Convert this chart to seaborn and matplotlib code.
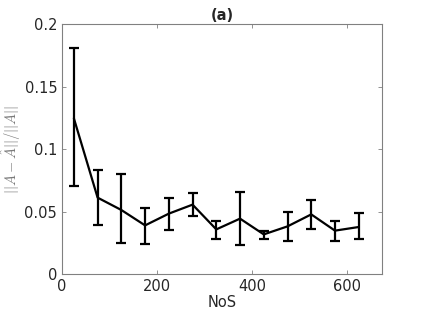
import numpy as np
import pandas as pd
import seaborn as sns
import matplotlib
matplotlib.use("Agg")
import matplotlib.pyplot as plt

# values
nos = [25, 75, 125, 175, 225, 275, 325, 375, 425, 475, 525, 575, 625]
err_mean = [0.1245, 0.0611, 0.0512, 0.0389, 0.0483, 0.0555, 0.0357, 0.0443, 0.0317, 0.0381, 0.0477, 0.0347, 0.0376]
err_upper = [0.1805, 0.0835, 0.0800, 0.0530, 0.0605, 0.0648, 0.0421, 0.0653, 0.0344, 0.0499, 0.0592, 0.0424, 0.0488]
err_lower = [0.0704, 0.0389, 0.0245, 0.0237, 0.0355, 0.0461, 0.0283, 0.0229, 0.0283, 0.0261, 0.0357, 0.0267, 0.0280]

df = pd.DataFrame({"NoS": nos, "err": err_mean})

sns.set_style("white")
plt.rcParams["font.family"] = ["DejaVu Sans"]
plt.rcParams["mathtext.fontset"] = "cm"

fig = plt.figure(figsize=(4.23, 3.17), dpi=100)
ax = fig.add_axes([0.1466, 0.1356, 0.7564, 0.7887])

sns.lineplot(data=df, x="NoS", y="err", color="black", linewidth=1.6, ax=ax)
yerr = np.array([np.array(err_mean) - np.array(err_lower),
                 np.array(err_upper) - np.array(err_mean)])
ax.errorbar(nos, err_mean, yerr=yerr, fmt="none", ecolor="black",
            elinewidth=1.6, capsize=3.5, capthick=1.6)

ax.set_xlim(0, 674)
ax.set_ylim(0, 0.2)
ax.set_xticks([0, 200, 400, 600])
ax.set_yticks([0, 0.05, 0.1, 0.15, 0.2])
ax.set_yticklabels(["0", "0.05", "0.1", "0.15", "0.2"])

gray = "#262626"
for s in ax.spines.values():
    s.set_color("#808080")
    s.set_linewidth(0.8)
ax.tick_params(direction="in", length=3, width=0.6, color="#808080",
               labelcolor=gray, labelsize=10.5, top=True, right=True,
               bottom=True, left=True)
ax.set_xlabel("NoS", fontsize=10.5, color=gray, labelpad=1)
ax.set_ylabel(r"$||A-\hat{A}||/||A||$", fontsize=10.5, color="#7a7a7a", labelpad=1)
ax.set_title("(a)", fontsize=10.5, fontweight="bold", pad=3)

fig.savefig("out.png", dpi=100)
